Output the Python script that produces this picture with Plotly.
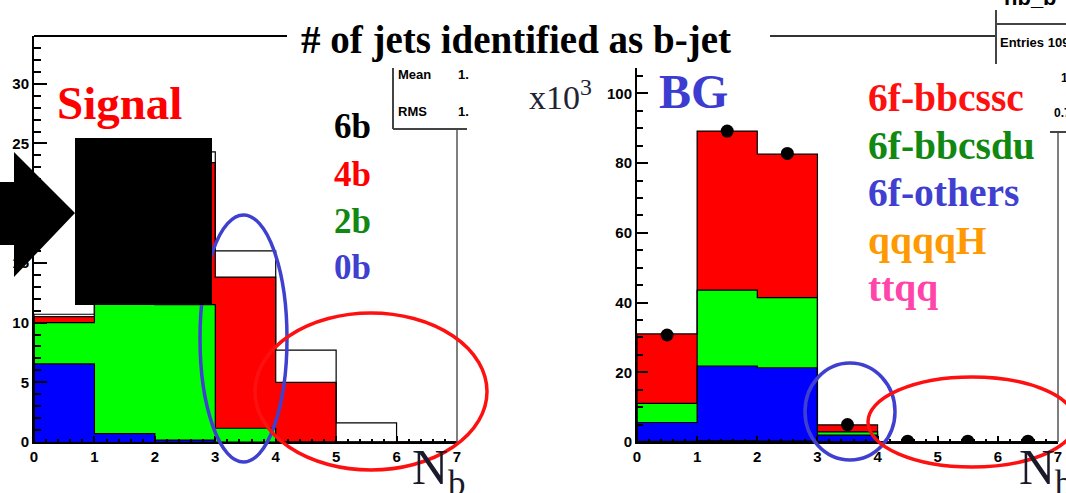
import numpy as np
import plotly.graph_objects as go

W, H = 1066, 493

# ---------------- data ----------------
bin_centers = [0.5, 1.5, 2.5, 3.5, 4.5, 5.5, 6.5]
bin_edges = [0, 1, 2, 3, 4, 5, 6, 7]

# Signal (left), stacked bottom -> top
sig_0b = [6.55, 0.7, 0.15, 0.0, 0.0, 0.0, 0.0]
sig_2b = [3.45, 17.0, 11.35, 1.15, 0.0, 0.0, 0.0]
sig_4b = [0.5, 4.0, 11.9, 12.65, 5.0, 0.0, 0.0]
sig_6b = [0.2, 0.8, 0.9, 2.2, 2.7, 1.6, 0.0]

# Background (right, in units of 10^3), stacked bottom -> top
bg_ttqq = [0.15, 0.2, 0.15, 0.05, 0.0, 0.0, 0.0]
bg_qqqqH = [0.05, 0.1, 0.1, 0.05, 0.0, 0.0, 0.0]
bg_others = [5.4, 21.5, 21.05, 1.9, 0.0, 0.0, 0.0]
bg_bbcsdu = [5.5, 21.8, 20.1, 0.9, 0.0, 0.0, 0.0]
bg_bbcssc = [19.9, 45.6, 41.2, 2.0, 0.0, 0.0, 0.0]
bg_points = [30.7, 89.2, 82.8, 5.0, 0.25, 0.25, 0.25]

sig_ticks_y = [0, 5, 10, 15, 20, 25, 30]
bg_ticks_y = [0, 20, 40, 60, 80, 100]
x_ticks = [0, 1, 2, 3, 4, 5, 6, 7]


def X(px):
    return px / W


def Y(py):
    return 1 - py / H


fig = go.Figure()


def add_stack(comps, colors, xa, ya):
    for vals, col in zip(comps, colors):
        fig.add_trace(go.Bar(x=bin_centers, y=vals, width=1.0, marker=dict(color=col, line=dict(width=0)),
                             xaxis=xa, yaxis=ya, showlegend=False, hoverinfo="skip"))
    cum = np.cumsum(np.array(comps, dtype=float), axis=0)
    for c in cum:
        xs = [bin_edges[0]] + bin_edges + [bin_edges[-1]]
        ys = [0] + list(c) + [c[-1], 0]
        fig.add_trace(go.Scatter(x=xs, y=ys, mode="lines", line=dict(color="black", width=1.2, shape="hv"),
                                 xaxis=xa, yaxis=ya, showlegend=False, hoverinfo="skip"))


add_stack([sig_0b, sig_2b, sig_4b, sig_6b], ["#0000ff", "#00ff00", "#ff0000", "#ffffff"], "x", "y")
add_stack([bg_ttqq, bg_qqqqH, bg_others, bg_bbcsdu, bg_bbcssc],
          ["#ff33aa", "#ff9900", "#0000ff", "#00ff00", "#ff0000"], "x2", "y2")

fig.add_trace(go.Scatter(x=bin_centers, y=bg_points, mode="markers",
                         marker=dict(color="black", size=13), xaxis="x2", yaxis="y2",
                         showlegend=False, hoverinfo="skip"))

tickfont = dict(family="Liberation Sans", size=15, color="black", weight="bold")
axis_common = dict(showgrid=False, zeroline=False, showline=True, linecolor="black", linewidth=2,
                   ticks="inside", tickcolor="black", tickfont=tickfont, fixedrange=True)

fig.update_layout(
    width=W, height=H, margin=dict(l=0, r=0, t=0, b=0, autoexpand=False),
    paper_bgcolor="white", plot_bgcolor="rgba(0,0,0,0)",
    barmode="stack", bargap=0,
    xaxis=dict(domain=[X(34), X(457)], range=[0, 7], tickvals=x_ticks, ticklen=6, tickwidth=1.5,
               minor=dict(dtick=0.2, ticklen=3, tickcolor="black", ticks="inside"), anchor="y", **axis_common),
    yaxis=dict(domain=[Y(442), Y(36)], range=[0, 34.0], tickvals=sig_ticks_y, ticklen=13, tickwidth=1.5,
               minor=dict(dtick=1, ticklen=7, tickcolor="black", ticks="inside"), anchor="x", **axis_common),
    xaxis2=dict(domain=[X(637), X(1058)], range=[0, 7], tickvals=x_ticks, ticklen=6, tickwidth=1.5,
                minor=dict(dtick=0.2, ticklen=3, tickcolor="black", ticks="inside"), anchor="y2", **axis_common),
    yaxis2=dict(domain=[Y(442), Y(68)], range=[0, 107.3], tickvals=bg_ticks_y, ticklen=11, tickwidth=1.5,
                minor=dict(dtick=5, ticklen=6, tickcolor="black", ticks="inside"), anchor="x2", **axis_common),
)

shapes = []


def line(x0, y0, x1, y1, w=1.5, col="#333333"):
    shapes.append(dict(type="line", xref="paper", yref="paper", x0=X(x0), y0=Y(y0), x1=X(x1), y1=Y(y1),
                       line=dict(color=col, width=w)))


# frame pieces
line(34, 36, 287, 36, 2, "black")
line(457, 129, 457, 442, 1.5, "#555555")
line(770, 36, 996, 36, 2, "#333333")
line(1058, 132, 1058, 442, 1.5, "#555555")
# stat boxes
line(393, 68, 393, 129, 2, "#444444")
line(393, 129, 467, 129, 2, "#444444")
line(996, 10, 996, 64, 2, "#444444")
line(996, 24, 1066, 24, 2, "#444444")
line(1050, 132, 1066, 132, 2, "#444444")


def ellipse(x0, y0, x1, y1, col, w=3.5):
    shapes.append(dict(type="circle", xref="paper", yref="paper", x0=X(x0), y0=Y(y1), x1=X(x1), y1=Y(y0),
                       line=dict(color=col, width=w)))


ellipse(200, 215, 287, 462, "#4040d0")
ellipse(255, 313, 487, 470, "#ff1010")
ellipse(805, 363, 895, 460, "#4040d0")
ellipse(868, 377, 1076, 467, "#ff1010")

# black box and arrow
shapes.append(dict(type="rect", xref="paper", yref="paper", x0=X(75), x1=X(212), y0=Y(305), y1=Y(138),
                   fillcolor="black", line=dict(width=0)))
arrow = [(0, 182), (14, 182), (14, 152), (75, 213), (14, 277), (14, 245), (0, 245)]
path = "M " + " L ".join(f"{X(a):.5f},{Y(b):.5f}" for a, b in arrow) + " Z"
shapes.append(dict(type="path", xref="paper", yref="paper", path=path, fillcolor="black", line=dict(width=0)))

fig.update_layout(shapes=shapes)

ann = []


def text(t, x, y, size, col, xanchor="left", bold=True, family="Liberation Serif"):
    ann.append(dict(text=t, x=X(x), y=Y(y), xref="paper", yref="paper", xanchor=xanchor, yanchor="middle",
                    showarrow=False, font=dict(family=family, size=size, color=col,
                                               weight="bold" if bold else "normal")))


text("# of jets identified as b-jet", 516, 40, 39, "black", xanchor="center")
text("Signal", 55, 103, 47, "#ff0000")
text("BG", 657, 92, 48, "#3c3cd0")
text("x10<sup>3</sup>", 527, 95, 34, "#222233", bold=False)
text("6b", 332, 127, 35, "black")
text("4b", 332, 174, 35, "#ff0000")
text("2b", 332, 221, 35, "#118811")
text("0b", 332, 267, 35, "#4040d0")
text("6f-bbcssc", 866, 98, 39.5, "#ff1010")
text("6f-bbcsdu", 866, 146, 39.5, "#118811")
text("6f-others", 866, 193, 39.5, "#4040d0")
text("qqqqH", 866, 241, 39.5, "#ff9900")
text("ttqq", 866, 288, 39.5, "#ff44aa")
text("N<sub>b</sub>", 410, 471, 50, "#1a1a2a", bold=False)
text("N<sub>b</sub>", 1017, 471, 50, "#1a1a2a", bold=False)

sf = "Liberation Sans"
text("Mean", 396, 75, 13, "black", family=sf)
text("1.", 456, 75, 13, "black", family=sf)
text("RMS", 396, 111, 13, "black", family=sf)
text("1.", 456, 111, 13, "black", family=sf)
text("Entries 109", 998, 42, 13, "black", family=sf)
text("1", 1059, 78, 12, "black", family=sf)
text("0.7", 1052, 113, 12, "black", family=sf)
text("hb_b", 1002, -3, 22, "black", family=sf)

fig.update_layout(annotations=ann)

fig.write_html("out.html")
